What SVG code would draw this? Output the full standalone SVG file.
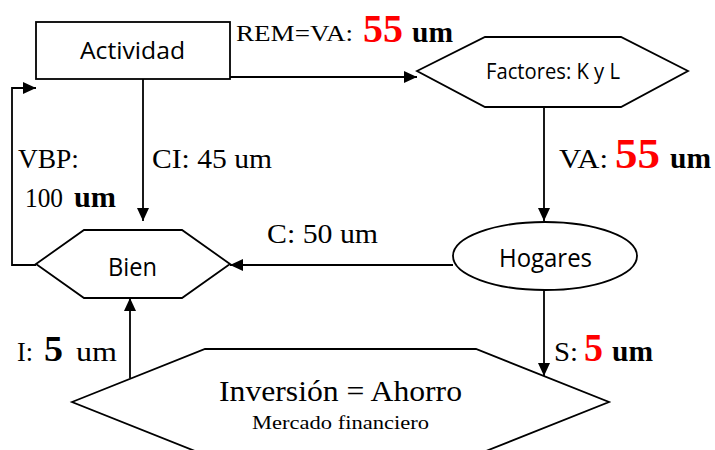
<svg xmlns="http://www.w3.org/2000/svg" width="715" height="450" viewBox="0 0 715 450">
<defs>
<marker id="arr" markerWidth="13" markerHeight="12" refX="13" refY="6" orient="auto" markerUnits="userSpaceOnUse">
<path d="M0,0 L13,6 L0,12 z" fill="#000"/>
</marker>
<style>
.node{fill:#fff;stroke:#000;stroke-width:1.8}
.edge{fill:none;stroke:#000;stroke-width:1.8}
.sans{font-family:"Open Sans","Liberation Sans",sans-serif;fill:#000}
.serif{font-family:"Liberation Serif","DejaVu Serif",serif;fill:#000}
.b{font-weight:bold}
.red{fill:#ff0000;font-weight:bold}
</style>
</defs>
<rect width="715" height="450" fill="#fff"/>
<g id="connectors">
<path class="edge" d="M230,77 H417" marker-end="url(#arr)"/>
<path class="edge" d="M544,107 V221" marker-end="url(#arr)"/>
<path class="edge" d="M453,265 H230" marker-end="url(#arr)"/>
<path class="edge" d="M143,79 V221" marker-end="url(#arr)"/>
<path class="edge" d="M36,265 H12 V88 H36" marker-end="url(#arr)"/>
<path class="edge" d="M130,378 V298" marker-end="url(#arr)"/>
<path class="edge" d="M544,290 V376" marker-end="url(#arr)"/>
</g>
<g id="actividad">
<rect class="node" x="36" y="22" width="194" height="57"/>
<text class="sans" x="132.5" y="59" font-size="24" text-anchor="middle" textLength="105" lengthAdjust="spacingAndGlyphs">Actividad</text>
</g>
<g id="factores">
<polygon class="node" points="417,71 485,37 621,37 688,71 621,107 485,107"/>
<text class="sans" x="553" y="79" font-size="21" text-anchor="middle" textLength="134" lengthAdjust="spacingAndGlyphs">Factores: K y L</text>
</g>
<g id="hogares">
<ellipse class="node" cx="545" cy="256" rx="92" ry="34"/>
<text class="sans" x="545.5" y="267" font-size="25" text-anchor="middle" textLength="93" lengthAdjust="spacingAndGlyphs">Hogares</text>
</g>
<g id="bien">
<polygon class="node" points="36,264 84,230 182,230 230,264 182,298 84,298"/>
<text class="sans" x="132.5" y="276" font-size="25" text-anchor="middle" textLength="49" lengthAdjust="spacingAndGlyphs">Bien</text>
</g>
<g id="inversion">
<polygon class="node" points="72,402 205,349 476,349 609,402 476,455 205,455"/>
<text class="serif" x="219" y="401" font-size="29" textLength="243" lengthAdjust="spacingAndGlyphs">Inversión = Ahorro</text>
<text class="serif" x="252" y="429" font-size="19" textLength="177" lengthAdjust="spacingAndGlyphs">Mercado financiero</text>
</g>
<g id="labels">
<text class="serif" x="236" y="41" font-size="24" textLength="117" lengthAdjust="spacingAndGlyphs">REM=VA:</text>
<text class="serif red" x="363" y="42" font-size="40" textLength="40" lengthAdjust="spacingAndGlyphs">55</text>
<text class="serif b" x="412" y="42" font-size="30" textLength="41" lengthAdjust="spacingAndGlyphs">um</text>

<text class="serif" x="559" y="168" font-size="28" textLength="49" lengthAdjust="spacingAndGlyphs">VA:</text>
<text class="serif red" x="615" y="168" font-size="43" textLength="45" lengthAdjust="spacingAndGlyphs">55</text>
<text class="serif b" x="670" y="168" font-size="30" textLength="41" lengthAdjust="spacingAndGlyphs">um</text>

<text class="serif" x="152" y="168" font-size="27" textLength="120" lengthAdjust="spacingAndGlyphs">CI: 45 um</text>

<text class="serif" x="18" y="168" font-size="27" textLength="61" lengthAdjust="spacingAndGlyphs">VBP:</text>
<text class="serif" x="25" y="207" font-size="28" textLength="38" lengthAdjust="spacingAndGlyphs">100</text>
<text class="serif b" x="74" y="207" font-size="30" textLength="42" lengthAdjust="spacingAndGlyphs">um</text>

<text class="serif" x="267" y="243" font-size="27" textLength="111" lengthAdjust="spacingAndGlyphs">C: 50 um</text>

<text class="serif" x="17" y="361" font-size="27" textLength="16" lengthAdjust="spacingAndGlyphs">I:</text>
<text class="serif b" x="44" y="361" font-size="35" textLength="19" lengthAdjust="spacingAndGlyphs">5</text>
<text class="serif" x="76" y="361" font-size="28" textLength="41" lengthAdjust="spacingAndGlyphs">um</text>

<text class="serif" x="554" y="361" font-size="27" textLength="24" lengthAdjust="spacingAndGlyphs">S:</text>
<text class="serif red" x="584" y="361" font-size="41" textLength="19" lengthAdjust="spacingAndGlyphs">5</text>
<text class="serif b" x="612" y="361" font-size="30" textLength="41" lengthAdjust="spacingAndGlyphs">um</text>
</g>
</svg>
